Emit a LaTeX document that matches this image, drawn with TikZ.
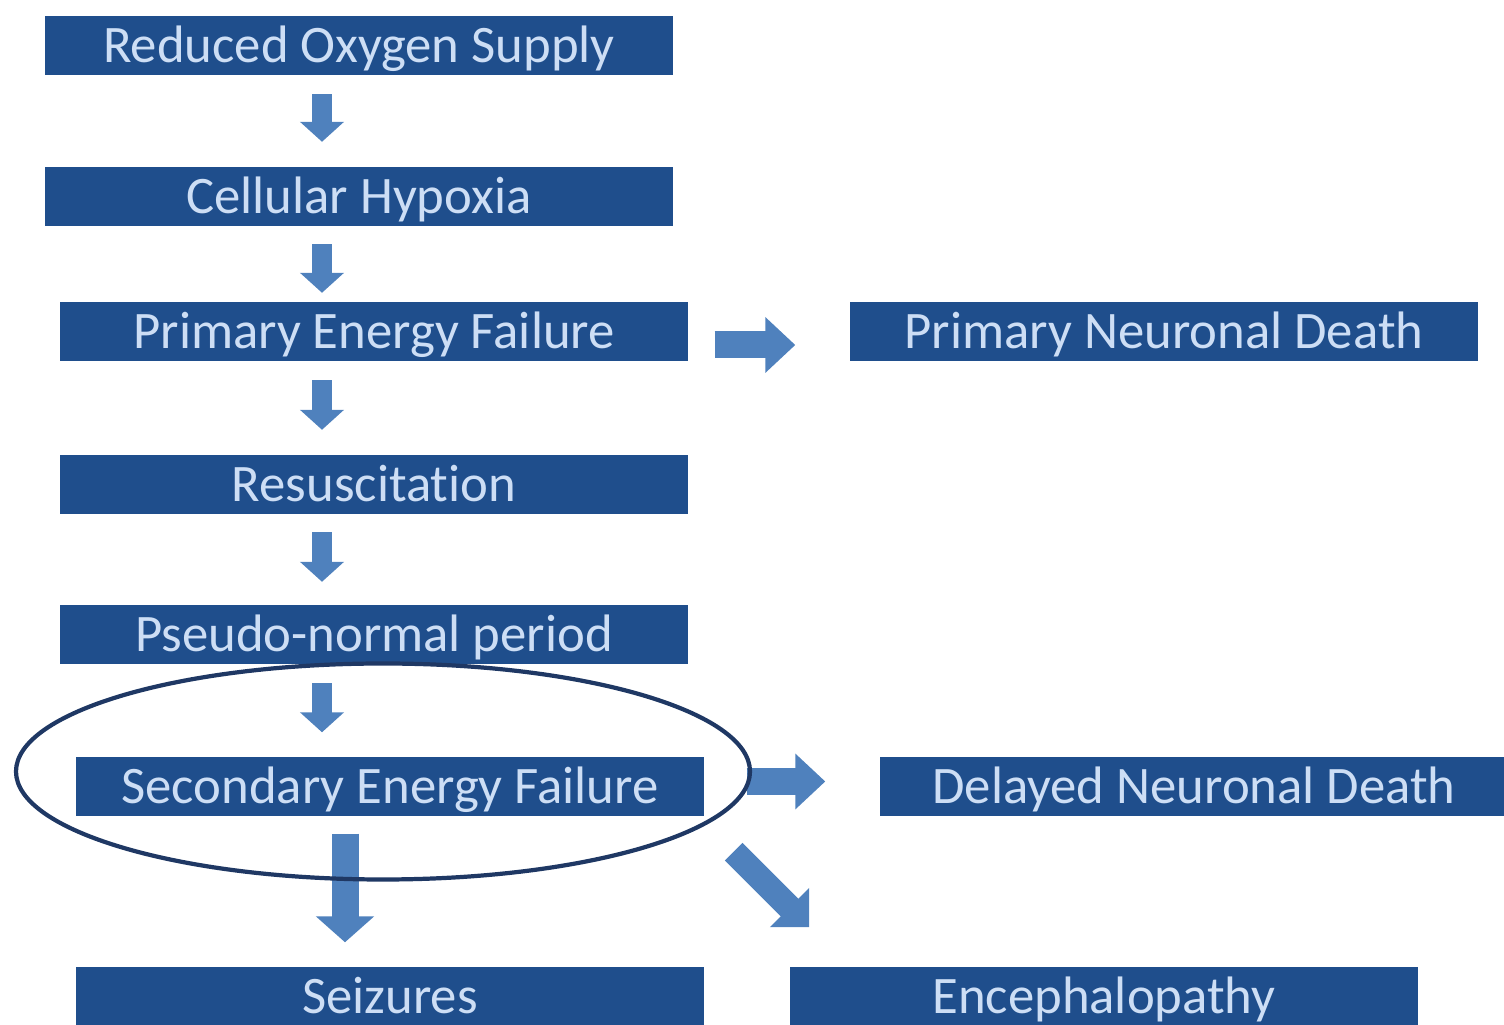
\documentclass[tikz,border=0pt]{standalone}
\usepackage{fontspec}
\setmainfont{Carlito}[Ligatures=NoCommon]
\usetikzlibrary{arrows.meta,shapes.geometric}
\definecolor{boxblue}{RGB}{31,78,140}
\definecolor{boxtext}{RGB}{205,222,245}
\definecolor{arrowblue}{RGB}{79,129,189}
\definecolor{ringblue}{RGB}{31,56,100}

\begin{document}
\begin{tikzpicture}[
        stage/.style={fill=boxblue, text=boxtext, minimum width=6.28cm, minimum height=0.59cm,
                inner sep=0pt, text height=0.34cm, text depth=0pt, font=\fontsize{15pt}{18pt}\selectfont},
        flowdown/.style={draw=arrowblue, line width=0.2cm, -{Triangle[length=0.2cm,width=0.43cm]}},
        flowbig/.style={draw=arrowblue, line width=0.27cm, -{Triangle[length=0.26cm,width=0.57cm]}},
        flowright/.style={draw=arrowblue, line width=0.27cm, -{Triangle[length=0.3cm,width=0.54cm]}},
        flowdiag/.style={draw=arrowblue, line width=0.25cm, -{Triangle[length=0.28cm,width=0.54cm]}}]
        \useasboundingbox (0,0) rectangle (15.04,10.25);
        \node   (oxygen)    [stage] at (3.59,9.79)     {Reduced Oxygen Supply};
        \node   (hypoxia)   [stage] at (3.59,8.28)     {Cellular Hypoxia};
        \node   (primary)   [stage] at (3.74,6.93)     {Primary Energy Failure};
        \node   (pdeath)    [stage] at (11.64,6.93)    {Primary Neuronal Death};
        \node   (resus)     [stage] at (3.74,5.40)     {Resuscitation};
        \node   (pseudo)    [stage] at (3.74,3.90)     {Pseudo-normal period};
        \node   (secondary) [stage] at (3.90,2.385)    {Secondary Energy Failure};
        \node   (ddeath)    [stage] at (11.94,2.385)   {Delayed Neuronal Death};
        \node   (seizures)  [stage] at (3.90,0.285)    {Seizures};
        \node   (enceph)    [stage] at (11.04,0.285)   {Encephalopathy};
        \draw[flowdown] ([xshift=-0.37cm,yshift=-0.18cm]oxygen.south) -- ([xshift=-0.37cm,yshift=0.25cm]hypoxia.north);
        \draw[flowdown] ([xshift=-0.37cm,yshift=-0.17cm]hypoxia.south) -- ([xshift=-0.52cm,yshift=0.09cm]primary.north);
        \draw[flowdown] ([xshift=-0.52cm,yshift=-0.18cm]primary.south) -- ([xshift=-0.52cm,yshift=0.25cm]resus.north);
        \draw[flowdown] ([xshift=-0.52cm,yshift=-0.17cm]resus.south) -- ([xshift=-0.52cm,yshift=0.23cm]pseudo.north);
        \draw[flowdown] ([xshift=-0.52cm,yshift=-0.18cm]pseudo.south) -- ([xshift=-0.68cm,yshift=0.24cm]secondary.north);
        \draw[flowbig] ([xshift=-0.45cm,yshift=-0.17cm]secondary.south) -- ([xshift=-0.45cm,yshift=0.24cm]seizures.north);
        \draw[flowright] ([xshift=0.26cm,yshift=-0.13cm]primary.east) -- ([xshift=-0.54cm,yshift=-0.13cm]pdeath.west);
        \draw[flowright] ([xshift=0.42cm,yshift=0.05cm]secondary.east) -- ([xshift=-0.54cm,yshift=0.05cm]ddeath.west);
        \draw[flowdiag] ([xshift=0.29cm,yshift=-0.35cm]secondary.south east) -- ([xshift=0.20cm,yshift=0.39cm]enceph.north west);
        \node   (ring) [ellipse, draw=ringblue, line width=1.2pt, minimum width=7.34cm, minimum height=2.16cm] at (3.83,2.535) {};
\end{tikzpicture}
\end{document}
